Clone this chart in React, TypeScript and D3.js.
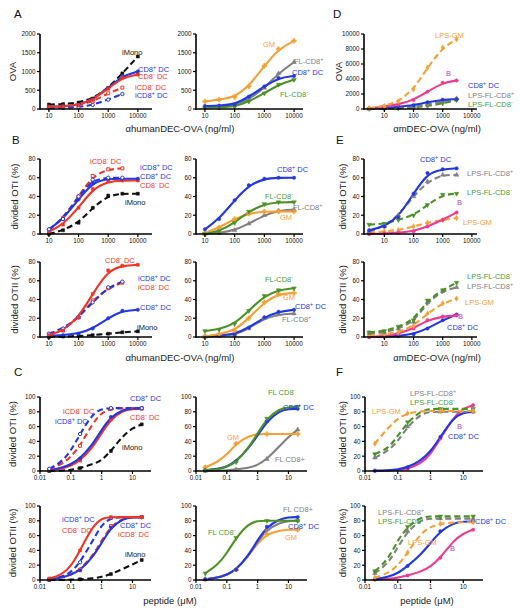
import React from 'react';
import * as d3 from 'd3';

// ---------- doses / ticks ----------
const ANTI_DOSE = [10, 30, 100, 300, 1000, 3000, 10000];
const MDEC_DOSE = [3, 10, 30, 100, 300, 1000, 3000];
const PEP_GRID = [0.02, 0.05, 0.1, 0.2, 0.5, 1, 2, 5, 10, 20];
const PEP_DOSE = [0.02, 0.2, 2, 20];

const X_TICKS_NG = [10, 100, 1000, 10000];
const X_TICK_LABELS_NG = ['10', '100', '1000', '10000'];
const X_TICKS_PEP = [0.01, 0.1, 1, 10];
const X_TICK_LABELS_PEP = ['0.01', '0.1', '1', '10'];
const Y_TICKS_OVA_H = [0, 500, 1000, 1500, 2000];
const Y_TICKS_OVA_M = [0, 2000, 4000, 6000, 8000, 10000];
const Y_TICKS_80 = [0, 20, 40, 60, 80];
const Y_TICKS_100 = [0, 20, 40, 60, 80, 100];

// ---------- Panel A (OVA, αhumanDEC-OVA) ----------
const A1_IMONO = [120, 130, 170, 280, 560, 950, 1400];
const A1_CD8P = [60, 70, 110, 250, 560, 880, 1000];
const A1_CD8M = [60, 70, 110, 250, 540, 840, 920];
const A1_ICD8M = [60, 70, 100, 200, 420, 570];
const A1_ICD8P = [20, 30, 50, 110, 250, 400];

const A2_GM = [200, 250, 320, 600, 1150, 1600, 1820];
const A2_FLP = [60, 70, 110, 250, 560, 950, 1250];
const A2_CD8P = [80, 90, 120, 330, 600, 830, 880];
const A2_FLM = [40, 45, 60, 200, 420, 650, 780];

// ---------- Panel D (OVA, αmDEC-OVA) ----------
const D_LPSGM = [100, 400, 1000, 2600, 5500, 8200, 9300];
const D_B = [80, 300, 600, 1200, 2300, 3500, 3800];
const D_CD8P = [80, 150, 300, 500, 900, 1250, 1320];
const D_LPSFLP = [20, 60, 150, 300, 600, 1000, 1400];
const D_LPSFLM = [10, 40, 100, 200, 400, 750, 1200];

// ---------- Panel B top (OTI) ----------
const B1_ICD8M = [4, 17, 40, 62, 69, 70];
const B1_ICD8P = [5, 16, 40, 58, 60, 60];
const B1_CD8P = [5, 16, 37, 55, 59, 59, 59];
const B1_CD8M = [2.5, 10, 28, 48, 56, 57, 57];
const B1_IMONO = [0, 4, 12, 28, 41, 43, 43];

const B2_CD8P = [5, 16, 36, 52, 59, 60, 60];
const B2_FLM = [0, 3, 12, 24, 32, 34, 34];
const B2_FLP = [0, 1, 4, 11, 20, 25, 26];
const B2_GM = [1, 7, 16, 22, 24, 24, 24];

const E1_CD8P = [4, 8, 18, 43, 65, 69, 70];
const E1_LPSFLP = [2.5, 8, 20, 40, 56, 63, 63];
const E1_LPSFLM = [10, 11, 15, 20, 31, 42, 43];
const E1_B = [0, 0.5, 1.4, 3, 8, 15, 23];
const E1_LPSGM = [1, 3, 4, 8, 12, 15, 17];

// ---------- Panel B bottom (OTII) ----------
const B3_CD8M = [2, 7, 21, 46, 71, 76, 77];
const B3_ICD8P = [3.5, 9, 21, 37, 53, 59];
const B3_ICD8M = [2, 7, 21, 39, 52, 58];
const B3_CD8P = [1, 2, 3.5, 9, 20, 28, 29];
const B3_IMONO = [0, 0.5, 1, 2, 3.5, 5, 6];

const B4_FLM = [6.4, 8, 14, 28, 44, 50, 52];
const B4_GM = [0.7, 3, 7, 20, 37, 46, 47];
const B4_CD8P = [0.7, 1.5, 3, 10, 21, 27, 29];
const B4_FLP = [0, 1, 2, 9, 20, 24, 25];

const E2_LPSFLM = [5, 6.4, 11, 18, 39, 50, 58];
const E2_LPSFLP = [4, 5, 9, 16, 37, 49, 53];
const E2_LPSGM = [2, 3, 5, 12, 25, 36, 41];
const E2_B = [0, 0.5, 3.5, 9, 18, 22, 23];
const E2_CD8P = [0, 0.3, 1, 3, 9, 18, 24];

// ---------- Panel C top (OTI, peptide) ----------
const C1_ICD8P = [3, 12, 27, 50, 77, 84, 85, 85, 85, 85];
const C1_ICD8M = [2, 9, 19, 34, 64, 79, 84, 85, 85, 85];
const C1_CD8P = [1, 4, 9, 17, 35, 56, 73, 83, 85, 85];
const C1_CD8M = [1, 3, 7, 14, 31, 51, 70, 82, 84, 84];
const C1_IMONO = [0, 0.5, 1.5, 4, 9, 14, 27, 48, 58, 63];

const C2_FLM = [1, 2, 5, 12, 31, 51, 71, 84, 86, 87];
const C2_CD8P = [1, 2.5, 6, 13, 30, 48, 67, 81, 84, 84];
const C2_GM = [5, 12, 22, 37, 47, 50, 50, 50, 50, 50];
const C2_FLP = [0, 0.5, 1, 2, 4, 8, 16, 33, 46, 56];

const F1_LPSGM = [37, 58, 71, 78, 81, 81, 81, 81, 81, 81];
const F1_LPSFLM = [23, 30, 47, 66, 81, 84, 84, 84, 84, 84];
const F1_LPSFLP = [18, 27, 40, 60, 77, 80, 80, 80, 80, 80];
const F1_CD8P = [0.5, 1, 2, 5, 14, 26, 46, 72, 79, 80];
const F1_B = [0, 0.5, 1, 3, 10, 22, 44, 72, 85, 89];

// ---------- Panel C bottom (OTII, peptide) ----------
const C3_CD8M = [2, 7, 18, 40, 72, 84, 85, 85, 85, 85];
const C3_ICD8P = [1, 4, 10, 24, 52, 75, 84, 85, 85, 85];
const C3_CD8P = [1, 3, 7, 13, 30, 50, 71, 83, 85, 85];
const C3_ICD8M = [1, 3, 7, 14, 32, 53, 73, 83, 85, 85];
const C3_IMONO = [0, 0, 0.5, 1, 2, 4, 8, 15, 21, 27];

const C4_FLM = [9, 20, 36, 57, 76, 80, 80, 80, 80, 80];
const C4_CD8P = [1, 3, 7, 14, 33, 54, 72, 82, 85, 85];
const C4_GM = [1, 3, 7, 14, 32, 50, 62, 67, 68, 68];
const C4_FLP = [1, 3, 7, 14, 32, 52, 68, 77, 80, 80];

const F2_LPSFLM = [12, 27, 54, 72, 85, 86, 86, 86, 86, 86];
const F2_LPSFLP = [9, 22, 44, 66, 81, 83, 83, 83, 83, 83];
const F2_LPSGM = [3, 9, 19, 37, 63, 72, 76, 78, 78, 78];
const F2_CD8P = [1, 4, 9, 19, 34, 50, 66, 77, 79, 79];
const F2_B = [0.5, 1.5, 3, 6, 11, 18, 30, 53, 63, 68];

// ---------- styles ----------
const FONT = '"Liberation Sans", Arial, Helvetica, sans-serif';
const BLUE = '#2237e0';
const RED = '#ee3526';
const BLACK = '#111111';
const ORANGE = '#f5a037';
const GRAY = '#808080';
const GREEN = '#4b9126';
const PINK = '#ee3a8e';
const PURPLE = '#b13fc4';
const LGREEN = '#3f9e34';
const DASH = '6,3.5';

const STYLES: Record<string, any> = {
  cd8p: { color: BLUE, dash: null, shape: 'circle', open: false },
  cd8m: { color: RED, dash: null, shape: 'square', open: false },
  icd8p: { color: BLUE, dash: DASH, shape: 'circle', open: true },
  icd8m: { color: RED, dash: DASH, shape: 'square', open: true },
  imono: { color: BLACK, dash: DASH, shape: 'square', open: false },
  gm: { color: ORANGE, dash: null, shape: 'cross', open: false },
  flp: { color: GRAY, dash: null, shape: 'triangle', open: false },
  flm: { color: GREEN, dash: null, shape: 'triangleDown', open: false },
  lpsgm: { color: ORANGE, dash: DASH, shape: 'diamond', open: false },
  lpsflp: { color: GRAY, dash: DASH, shape: 'triangle', open: false },
  lpsflm: { color: GREEN, dash: DASH, shape: 'triangleDown', open: false },
  b: { color: PINK, dash: null, shape: 'circle', open: false },
};

// ---------- layout ----------
const COL_L = { xRange: [40, 152], xDomain: [5, 30000] };
const COL_M = { xRange: [196, 303], xDomain: [5, 20000] };
const COL_R = { xRange: [364, 477], xDomain: [2, 15000] };
const PCOL_L = { xRange: [40, 151], xDomain: [0.01, 40] };
const PCOL_M = { xRange: [196, 307], xDomain: [0.01, 40] };
const PCOL_R = { xRange: [365, 483], xDomain: [0.01, 40] };
const ROW1 = [109, 34];
const ROW2 = [234, 159];
const ROW3 = [337, 262];
const ROW4 = [471, 397];
const ROW5 = [580, 506];

const ng = { xTicks: X_TICKS_NG, xTickLabels: X_TICK_LABELS_NG };
const pep = { xTicks: X_TICKS_PEP, xTickLabels: X_TICK_LABELS_PEP, doses: PEP_DOSE };
const S = (style: string, x: number[], y: number[]) => ({ style, x, y });

const PANELS: any[] = [
  {
    ...COL_L, ...ng, yRange: ROW1, yDomain: [0, 2000], yTicks: Y_TICKS_OVA_H, doses: ANTI_DOSE,
    series: [S('icd8p', ANTI_DOSE, A1_ICD8P), S('icd8m', ANTI_DOSE, A1_ICD8M), S('imono', ANTI_DOSE, A1_IMONO),
      S('cd8p', ANTI_DOSE, A1_CD8P), S('cd8m', ANTI_DOSE, A1_CD8M)],
    labels: [
      { t: 'iMono', x: 122, y: 54.5, c: BLACK },
      { t: 'CD8^+^ DC', x: 138, y: 71.5, c: BLUE },
      { t: 'CD8^-^ DC', x: 138, y: 79, c: RED },
      { t: 'iCD8^-^ DC', x: 135, y: 90, c: RED },
      { t: 'iCD8^+^ DC', x: 135, y: 98, c: BLUE },
    ],
  },
  {
    ...COL_M, ...ng, yRange: ROW1, yDomain: [0, 2000], yTicks: Y_TICKS_OVA_H, doses: ANTI_DOSE,
    series: [S('flp', ANTI_DOSE, A2_FLP), S('flm', ANTI_DOSE, A2_FLM), S('cd8p', ANTI_DOSE, A2_CD8P), S('gm', ANTI_DOSE, A2_GM)],
    labels: [
      { t: 'GM', x: 263, y: 47, c: ORANGE },
      { t: 'FL-CD8^+^', x: 294, y: 64, c: GRAY },
      { t: 'CD8^+^ DC', x: 292, y: 75, c: BLUE },
      { t: 'FL-CD8^-^', x: 280, y: 97, c: LGREEN },
    ],
  },
  {
    ...COL_R, ...ng, yRange: ROW1, yDomain: [0, 10000], yTicks: Y_TICKS_OVA_M, doses: MDEC_DOSE,
    series: [S('lpsflm', MDEC_DOSE, D_LPSFLM), S('lpsflp', MDEC_DOSE, D_LPSFLP), S('cd8p', MDEC_DOSE, D_CD8P),
      S('b', MDEC_DOSE, D_B), S('lpsgm', MDEC_DOSE, D_LPSGM)],
    labels: [
      { t: 'LPS-GM', x: 435, y: 37.5, c: ORANGE },
      { t: 'B', x: 446, y: 76, c: PURPLE },
      { t: 'CD8^+^ DC', x: 468, y: 87.5, c: BLUE },
      { t: 'LPS-FL-CD8^+^', x: 468, y: 97.5, c: GRAY },
      { t: 'LPS-FL-CD8^-^', x: 468, y: 106.5, c: LGREEN },
    ],
  },
  {
    ...COL_L, ...ng, yRange: ROW2, yDomain: [0, 80], yTicks: Y_TICKS_80, doses: ANTI_DOSE,
    series: [S('imono', ANTI_DOSE, B1_IMONO), S('cd8m', ANTI_DOSE, B1_CD8M), S('icd8m', ANTI_DOSE, B1_ICD8M),
      S('cd8p', ANTI_DOSE, B1_CD8P), S('icd8p', ANTI_DOSE, B1_ICD8P)],
    labels: [
      { t: 'iCD8^-^ DC', x: 90, y: 164, c: RED },
      { t: 'iCD8^+^ DC', x: 140, y: 169.5, c: BLUE },
      { t: 'CD8^+^ DC', x: 140, y: 179, c: BLUE },
      { t: 'CD8^-^ DC', x: 140, y: 188, c: RED },
      { t: 'iMono', x: 125, y: 204.5, c: BLACK },
    ],
  },
  {
    ...COL_M, ...ng, yRange: ROW2, yDomain: [0, 80], yTicks: Y_TICKS_80, doses: ANTI_DOSE,
    series: [S('flp', ANTI_DOSE, B2_FLP), S('gm', ANTI_DOSE, B2_GM), S('flm', ANTI_DOSE, B2_FLM), S('cd8p', ANTI_DOSE, B2_CD8P)],
    labels: [
      { t: 'CD8^+^ DC', x: 277, y: 172, c: BLUE },
      { t: 'FL-CD8^-^', x: 265, y: 199, c: LGREEN },
      { t: 'FL-CD8^+^', x: 293, y: 210, c: GRAY },
      { t: 'GM', x: 280, y: 219.5, c: ORANGE },
    ],
  },
  {
    ...COL_R, ...ng, yRange: ROW2, yDomain: [0, 80], yTicks: Y_TICKS_80, doses: MDEC_DOSE,
    series: [S('lpsgm', MDEC_DOSE, E1_LPSGM), S('b', MDEC_DOSE, E1_B), S('lpsflm', MDEC_DOSE, E1_LPSFLM),
      S('lpsflp', MDEC_DOSE, E1_LPSFLP), S('cd8p', MDEC_DOSE, E1_CD8P)],
    labels: [
      { t: 'CD8^+^ DC', x: 420, y: 162, c: BLUE },
      { t: 'LPS-FL-CD8^+^', x: 467, y: 176, c: GRAY },
      { t: 'LPS-FL-CD8^-^', x: 467, y: 195, c: LGREEN },
      { t: 'B', x: 457, y: 205, c: PURPLE },
      { t: 'LPS-GM', x: 463, y: 225, c: ORANGE },
    ],
  },
  {
    ...COL_L, ...ng, yRange: ROW3, yDomain: [0, 80], yTicks: Y_TICKS_80, doses: ANTI_DOSE,
    series: [S('imono', ANTI_DOSE, B3_IMONO), S('cd8p', ANTI_DOSE, B3_CD8P), S('icd8m', ANTI_DOSE, B3_ICD8M),
      S('icd8p', ANTI_DOSE, B3_ICD8P), S('cd8m', ANTI_DOSE, B3_CD8M)],
    labels: [
      { t: 'CD8^-^ DC', x: 105, y: 263, c: RED },
      { t: 'iCD8^+^ DC', x: 138, y: 281, c: BLUE },
      { t: 'iCD8^-^ DC', x: 138, y: 290, c: RED },
      { t: 'CD8^+^ DC', x: 140, y: 310, c: BLUE },
      { t: 'iMono', x: 137, y: 330, c: BLACK },
    ],
  },
  {
    ...COL_M, ...ng, yRange: ROW3, yDomain: [0, 80], yTicks: Y_TICKS_80, doses: ANTI_DOSE,
    series: [S('flp', ANTI_DOSE, B4_FLP), S('cd8p', ANTI_DOSE, B4_CD8P), S('gm', ANTI_DOSE, B4_GM), S('flm', ANTI_DOSE, B4_FLM)],
    labels: [
      { t: 'FL-CD8^-^', x: 265, y: 282, c: LGREEN },
      { t: 'GM', x: 283, y: 300, c: ORANGE },
      { t: 'CD8^+^ DC', x: 295, y: 309, c: BLUE },
      { t: 'FL-CD8^+^', x: 282, y: 322, c: GRAY },
    ],
  },
  {
    ...COL_R, ...ng, yRange: ROW3, yDomain: [0, 80], yTicks: Y_TICKS_80, doses: MDEC_DOSE,
    series: [S('cd8p', MDEC_DOSE, E2_CD8P), S('b', MDEC_DOSE, E2_B), S('lpsgm', MDEC_DOSE, E2_LPSGM),
      S('lpsflp', MDEC_DOSE, E2_LPSFLP), S('lpsflm', MDEC_DOSE, E2_LPSFLM)],
    labels: [
      { t: 'LPS-FL-CD8^-^', x: 467, y: 279, c: LGREEN },
      { t: 'LPS-FL-CD8^+^', x: 467, y: 289, c: GRAY },
      { t: 'LPS-GM', x: 465, y: 305, c: ORANGE },
      { t: 'B', x: 458, y: 319, c: PURPLE },
      { t: 'CD8^+^ DC', x: 447, y: 330, c: BLUE },
    ],
  },
  {
    ...PCOL_L, ...pep, yRange: ROW4, yDomain: [0, 100], yTicks: Y_TICKS_100,
    series: [S('imono', PEP_GRID, C1_IMONO), S('cd8m', PEP_GRID, C1_CD8M), S('cd8p', PEP_GRID, C1_CD8P),
      S('icd8m', PEP_GRID, C1_ICD8M), S('icd8p', PEP_GRID, C1_ICD8P)],
    labels: [
      { t: 'CD8^+^ DC', x: 130, y: 401, c: BLUE },
      { t: 'iCD8^-^ DC', x: 63, y: 414, c: RED },
      { t: 'iCD8^+^ DC', x: 55, y: 424, c: BLUE },
      { t: 'CD8^-^ DC', x: 130, y: 420, c: RED },
      { t: 'iMono', x: 122, y: 450, c: BLACK },
    ],
  },
  {
    ...PCOL_M, ...pep, yRange: ROW4, yDomain: [0, 100], yTicks: Y_TICKS_100,
    series: [S('flp', PEP_GRID, C2_FLP), S('gm', PEP_GRID, C2_GM), S('cd8p', PEP_GRID, C2_CD8P), S('flm', PEP_GRID, C2_FLM)],
    labels: [
      { t: 'FL CD8^-^', x: 268, y: 395, c: LGREEN },
      { t: 'CD8^+^ DC', x: 283, y: 410, c: BLUE },
      { t: 'GM', x: 227, y: 440, c: ORANGE },
      { t: 'FL CD8+', x: 275, y: 462, c: GRAY },
    ],
  },
  {
    ...PCOL_R, ...pep, yRange: ROW4, yDomain: [0, 100], yTicks: Y_TICKS_100,
    series: [S('b', PEP_GRID, F1_B), S('cd8p', PEP_GRID, F1_CD8P), S('lpsflp', PEP_GRID, F1_LPSFLP),
      S('lpsflm', PEP_GRID, F1_LPSFLM), S('lpsgm', PEP_GRID, F1_LPSGM)],
    labels: [
      { t: 'LPS-FL-CD8^+^', x: 410, y: 396, c: GRAY },
      { t: 'LPS-FL-CD8^-^', x: 410, y: 404.5, c: LGREEN },
      { t: 'LPS-GM', x: 372, y: 414, c: ORANGE },
      { t: 'B', x: 457, y: 429, c: PURPLE },
      { t: 'CD8^+^ DC', x: 448, y: 439, c: BLUE },
    ],
  },
  {
    ...PCOL_L, ...pep, yRange: ROW5, yDomain: [0, 100], yTicks: Y_TICKS_100,
    series: [S('imono', PEP_GRID, C3_IMONO), S('icd8m', PEP_GRID, C3_ICD8M), S('cd8p', PEP_GRID, C3_CD8P),
      S('icd8p', PEP_GRID, C3_ICD8P), S('cd8m', PEP_GRID, C3_CD8M)],
    labels: [
      { t: 'iCD8^+^ DC', x: 62, y: 522, c: BLUE },
      { t: 'CD8^-^ DC', x: 62, y: 533, c: RED },
      { t: 'CD8^+^ DC', x: 120, y: 528, c: BLUE },
      { t: 'iCD8^-^ DC', x: 118, y: 537, c: RED },
      { t: 'iMono', x: 125, y: 557, c: BLACK },
    ],
  },
  {
    ...PCOL_M, ...pep, yRange: ROW5, yDomain: [0, 100], yTicks: Y_TICKS_100,
    series: [S('gm', PEP_GRID, C4_GM), S('flp', PEP_GRID, C4_FLP), S('cd8p', PEP_GRID, C4_CD8P), S('flm', PEP_GRID, C4_FLM)],
    labels: [
      { t: 'FL CD8+', x: 283, y: 512, c: GRAY },
      { t: 'CD8^+^ DC', x: 288, y: 529, c: BLUE },
      { t: 'FL CD8^-^', x: 208, y: 535, c: LGREEN },
      { t: 'GM', x: 285, y: 540, c: ORANGE },
    ],
  },
  {
    ...PCOL_R, ...pep, yRange: ROW5, yDomain: [0, 100], yTicks: Y_TICKS_100,
    series: [S('b', PEP_GRID, F2_B), S('cd8p', PEP_GRID, F2_CD8P), S('lpsgm', PEP_GRID, F2_LPSGM),
      S('lpsflp', PEP_GRID, F2_LPSFLP), S('lpsflm', PEP_GRID, F2_LPSFLM)],
    labels: [
      { t: 'LPS-FL-CD8^+^', x: 378, y: 515, c: GRAY },
      { t: 'LPS-FL-CD8^-^', x: 378, y: 524, c: LGREEN },
      { t: 'LPS-GM', x: 408, y: 545, c: ORANGE },
      { t: 'B', x: 450, y: 551, c: PURPLE },
      { t: 'CD8^+^ DC', x: 475, y: 524, c: BLUE },
    ],
  },
];

const Y_TITLES = [
  { t: 'OVA', x: 13, y: 71.5 },
  { t: 'OVA', x: 339, y: 71.5 },
  { t: 'divided OTI (%)', x: 15, y: 196.5 },
  { t: 'divided OTI (%)', x: 343, y: 196.5 },
  { t: 'divided OTII (%)', x: 15, y: 299.5 },
  { t: 'divided OTII (%)', x: 343, y: 299.5 },
  { t: 'divided OTI (%)', x: 13, y: 434 },
  { t: 'divided OTI (%)', x: 343, y: 434 },
  { t: 'divided OTII (%)', x: 13, y: 543 },
  { t: 'divided OTII (%)', x: 343, y: 543 },
];
const X_TITLES = [
  { t: 'αhumanDEC-OVA (ng/ml)', x: 180, y: 131.5 },
  { t: 'αmDEC-OVA (ng/ml)', x: 437, y: 131.5 },
  { t: 'αhumanDEC-OVA (ng/ml)', x: 180, y: 360.5 },
  { t: 'αmDEC-OVA (ng/ml)', x: 437, y: 360.5 },
  { t: 'peptide (μM)', x: 170, y: 603.5 },
  { t: 'peptide (μM)', x: 427, y: 603.5 },
];
const LETTERS = [
  { t: 'A', x: 14, y: 18 }, { t: 'B', x: 12, y: 144 }, { t: 'C', x: 14, y: 376 },
  { t: 'D', x: 333, y: 18 }, { t: 'E', x: 336, y: 144 }, { t: 'F', x: 336, y: 376 },
];

function Label({ t, x, y, c, size = 7.5 }: any) {
  const parts = t.split('^');
  const sh = size * 0.38;
  const out: any[] = [];
  parts.forEach((p: string, i: number) => {
    if (!p) return;
    if (i % 2 === 1) {
      out.push(<tspan key={i} dy={-sh} fontSize={size * 0.72}>{p}</tspan>);
      const next = parts[i + 1];
      if (next) out.push(<tspan key={i + 'r'} dy={sh}>{next}</tspan>);
    } else if (i === 0) {
      out.push(<tspan key={i}>{p}</tspan>);
    }
  });
  return <text x={x} y={y} fill={c} fontSize={size} fontFamily={FONT}>{out}</text>;
}

function symbolPath(shape: string) {
  const map: Record<string, any> = {
    circle: d3.symbolCircle, square: d3.symbolSquare, triangle: d3.symbolTriangle,
    triangleDown: d3.symbolTriangle, diamond: d3.symbolDiamond, cross: d3.symbolCross,
  };
  return d3.symbol().type(map[shape]).size(shape === 'cross' ? 12 : 9)() as string;
}

function Panel({ cfg }: any) {
  const x = d3.scaleLog().domain(cfg.xDomain).range(cfg.xRange);
  const y = d3.scaleLinear().domain(cfg.yDomain).range(cfg.yRange);
  const line = d3.line<[number, number]>().x(d => x(d[0])).y(d => y(d[1])).curve(d3.curveBasis);
  const [x0, x1] = cfg.xRange;
  const yb = cfg.yRange[0];
  const yt = cfg.yRange[1];
  return (
    <g>
      {cfg.series.map((s: any, i: number) => {
        const st = STYLES[s.style];
        const pts = s.y.map((v: number, j: number) => [s.x[j], v] as [number, number]);
        return (
          <path key={'l' + i} d={line(pts) || ''} fill="none" stroke={st.color} strokeWidth={2.1}
            strokeDasharray={st.dash || undefined} strokeLinecap="butt" />
        );
      })}
      {cfg.series.map((s: any, i: number) => {
        const st = STYLES[s.style];
        const p = symbolPath(st.shape);
        return s.y.map((v: number, j: number) => {
          const xv = s.x[j];
          if (!cfg.doses.some((d: number) => Math.abs(d - xv) < 1e-9)) return null;
          const rot = st.shape === 'triangleDown' ? ' rotate(180)' : '';
          return (
            <path key={'m' + i + '-' + j} d={p} transform={`translate(${x(xv)},${y(v)})${rot}`}
              fill={st.open ? '#fff' : st.color} stroke={st.color} strokeWidth={st.open ? 1 : 0.5} />
          );
        });
      })}
      <line x1={x0} x2={x0} y1={yb + 0.8} y2={yt} stroke="#000" strokeWidth={1.6} />
      <line x1={x0} x2={x1} y1={yb} y2={yb} stroke="#000" strokeWidth={1.6} />
      {cfg.yTicks.map((t: number) => (
        <g key={'yt' + t}>
          <line x1={x0 - 3} x2={x0} y1={y(t)} y2={y(t)} stroke="#000" strokeWidth={1.2} />
          <text x={x0 - 4.5} y={y(t) + 2.3} textAnchor="end" fontSize={6.3} fontFamily={FONT} fill="#111">{t}</text>
        </g>
      ))}
      {cfg.xTicks.map((t: number, i: number) => (
        <g key={'xt' + t}>
          <line x1={x(t)} x2={x(t)} y1={yb} y2={yb + 3} stroke="#000" strokeWidth={1.2} />
          <text x={x(t)} y={yb + 9.3} textAnchor="middle" fontSize={6.3} fontFamily={FONT} fill="#111">{cfg.xTickLabels[i]}</text>
        </g>
      ))}
      {cfg.labels.map((l: any, i: number) => <Label key={'lab' + i} {...l} />)}
    </g>
  );
}

export default function App() {
  return (
    <svg width={520} height={614} viewBox="0 0 520 614"
      style={{ position: 'absolute', left: 0, top: 0, background: '#fff' }}>
      <rect width={520} height={614} fill="#fff" />
      {PANELS.map((p, i) => <Panel key={i} cfg={p} />)}
      {Y_TITLES.map((t, i) => (
        <text key={'yt' + i} transform={`translate(${t.x + 3},${t.y}) rotate(-90)`} textAnchor="middle"
          fontSize={9.5} fontFamily={FONT} fill="#222">{t.t}</text>
      ))}
      {X_TITLES.map((t, i) => (
        <text key={'xt' + i} x={t.x} y={t.y} textAnchor="middle" fontSize={9.5} fontFamily={FONT} fill="#222">{t.t}</text>
      ))}
      {LETTERS.map((t, i) => (
        <text key={'L' + i} x={t.x} y={t.y} fontSize={11.5} fontFamily={FONT} fill="#111">{t.t}</text>
      ))}
    </svg>
  );
}
